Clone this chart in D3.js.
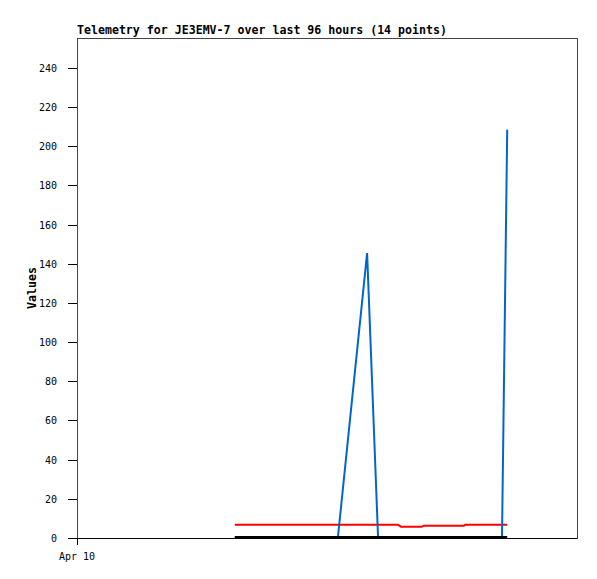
<!DOCTYPE html>
<html>
<head>
<meta charset="utf-8">
<script src="https://cdn.jsdelivr.net/npm/d3@7"></script>
<style>
  body { margin: 0; background: #fff; }
  text { font-family: "DejaVu Sans Mono", monospace; }
</style>
</head>
<body>
<div id="chart"></div>
<script>
// hours since Apr 10 00:00 for each telemetry point
var hours = [30.3, 40.0, 45.0, 50.1, 55.7, 57.8, 61.6, 62.2, 66.2, 66.6, 74.3, 74.5, 81.6, 82.6]
var redValues = [6.8, 6.8, 6.8, 6.8, 6.8, 6.8, 6.8, 5.8, 5.8, 6.3, 6.3, 6.8, 6.8, 6.8]
var blueValues = [0, 0, 0, 0, 145, 0, 0, 0, 0, 0, 0, 0, 0, 208]
var blackValues = [0, 0, 0, 0, 0, 0, 0, 0, 0, 0, 0, 0, 0, 0]
var yTicks = [0, 20, 40, 60, 80, 100, 120, 140, 160, 180, 200, 220, 240]
var xTickHours = [0]
var xTickLabels = ['Apr 10']

var width = 597
var height = 579
var plotL = 77, plotR = 577, plotT = 38, plotB = 538

var svg = d3.select('#chart').append('svg')
    .attr('width', width)
    .attr('height', height)

var x = d3.scaleLinear().domain([0, 96]).range([plotL, plotR])
var y = d3.scaleLinear().domain([0, 255.3]).range([plotB, plotT])

// title
svg.append('text')
    .attr('x', plotL)
    .attr('y', 34)
    .style('font-size', '11.6px')
    .style('font-weight', 'bold')
    .text('Telemetry for JE3EMV-7 over last 96 hours (14 points)')

// y axis label
svg.append('text')
    .attr('transform', 'translate(36,' + ((plotT + plotB) / 2) + ') rotate(-90)')
    .attr('text-anchor', 'middle')
    .style('font-size', '11.6px')
    .style('font-weight', 'bold')
    .text('Values')

// y ticks
var yt = svg.append('g')
yt.selectAll('line').data(yTicks).enter().append('line')
    .attr('x1', plotL - 9).attr('x2', plotL)
    .attr('y1', function (d) { return Math.round(y(d)) + 0.5 })
    .attr('y2', function (d) { return Math.round(y(d)) + 0.5 })
    .style('stroke', '#000')
yt.selectAll('text').data(yTicks).enter().append('text')
    .attr('x', plotL - 20)
    .attr('y', function (d) { return Math.round(y(d)) + 4 })
    .attr('text-anchor', 'end')
    .style('font-size', '10px')
    .text(function (d) { return d })

// x ticks
var xt = svg.append('g')
xt.selectAll('line').data(xTickHours).enter().append('line')
    .attr('x1', function (d) { return Math.round(x(d)) + 0.5 })
    .attr('x2', function (d) { return Math.round(x(d)) + 0.5 })
    .attr('y1', plotB - 4).attr('y2', plotB + 7)
    .style('stroke', '#000')
xt.selectAll('text').data(xTickHours).enter().append('text')
    .attr('x', function (d) { return x(d) })
    .attr('y', plotB + 22)
    .attr('text-anchor', 'middle')
    .style('font-size', '10px')
    .text(function (d, i) { return xTickLabels[i] })

// frame
svg.append('rect')
    .attr('x', plotL + 0.5).attr('y', plotT + 0.5)
    .attr('width', plotR - plotL).attr('height', plotB - plotT)
    .style('fill', 'none')
    .style('stroke', '#444')

// bottom axis line
svg.append('line')
    .attr('x1', plotL - 9).attr('x2', plotR)
    .attr('y1', plotB + 0.5).attr('y2', plotB + 0.5)
    .style('stroke', '#000')

var line = d3.line()
    .x(function (d) { return x(d[0]) })
    .y(function (d) { return y(d[1]) })

function series(values, color, offset) {
    svg.append('path')
        .datum(hours.map(function (h, i) { return [h, values[i]] }))
        .attr('d', line)
        .attr('transform', 'translate(0,' + offset + ')')
        .style('fill', 'none')
        .style('stroke', color)
        .style('stroke-width', 2)
}

series(redValues, '#ff0000', 0)
series(blueValues, '#0066cc', -1)
series(blackValues, '#000000', -1)
</script>
</body>
</html>
